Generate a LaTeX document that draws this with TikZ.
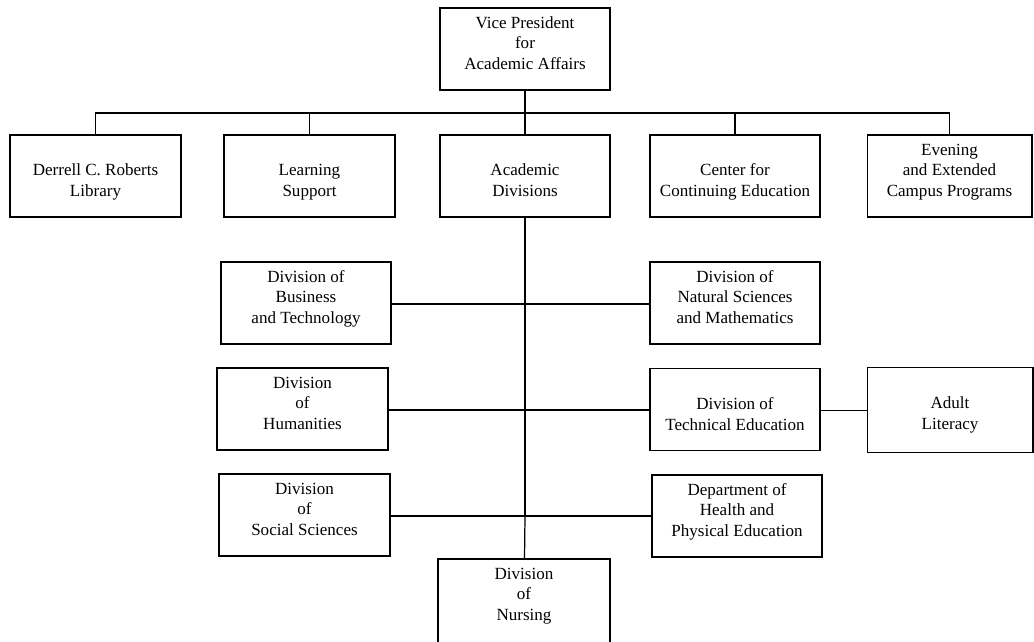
\documentclass[tikz,border=0pt]{standalone}
\usepackage{fontspec}
\setmainfont{Liberation Serif}

\begin{document}
\begin{tikzpicture}[x=0.02cm,y=-0.02cm,
  unit/.style={draw,line width=0.6pt,minimum width=3.4cm,minimum height=1.64cm,inner sep=0pt},
  txt/.style={anchor=north,yshift=-3.3pt,inner sep=0pt,align=center,
    font=\fontsize{9.7}{11.8}\selectfont},
  link/.style={line width=0.7pt},
  trunk/.style={line width=0.95pt}]
\useasboundingbox (0,0) rectangle (1034,642);

\node[unit,label={[txt]north:{\strut Vice President\\for\\Academic Affairs}}] (vp) at (525,49) {};

\node[unit,minimum width=3.42cm,label={[txt]north:{\strut\\Derrell C. Roberts\\Library}}] (lib) at (95.5,176) {};
\node[unit,minimum width=3.42cm,label={[txt]north:{\strut\\Learning\\Support}}] (learn) at (309.5,176) {};
\node[unit,label={[txt]north:{\strut\\Academic\\Divisions}}] (acad) at (525,176) {};
\node[unit,label={[txt]north:{\strut\\Center for\\Continuing Education}}] (cont) at (735,176) {};
\node[unit,minimum width=3.3cm,label={[txt]north:{\strut Evening\\and Extended\\Campus Programs}}] (even) at (949.5,176) {};

\node[unit,label={[txt]north:{\strut Division of\\Business\\and Technology}}] (biz) at (306,303) {};
\node[unit,label={[txt]north:{\strut Division of\\Natural Sciences\\and Mathematics}}] (natsci) at (735,303) {};
\node[unit,minimum width=3.42cm,label={[txt]north:{\strut Division\\of\\Humanities}}] (hum) at (302.5,409) {};
\node[unit,label={[txt]north:{\strut\\Division of\\Technical Education}}] (tech) at (735,409.5) {};
\node[unit,minimum width=3.32cm,minimum height=1.7cm,label={[txt]north:{\strut\\Adult\\Literacy}}] (adult) at (950,410) {};
\node[unit,minimum width=3.42cm,label={[txt]north:{\strut Division\\of\\Social Sciences}}] (soc) at (304.5,515) {};
\node[unit,label={[txt]north:{\strut Department of\\Health and\\Physical Education}}] (health) at (737,516) {};
\node[unit,minimum width=3.44cm,minimum height=1.72cm,label={[txt]north:{\strut Division\\of\\Nursing}}] (nurse) at (524,602) {};

\coordinate (fork) at (525,113);
\coordinate (hub) at (525,516);

\draw[trunk] (vp) -- (acad);
\draw[link] (lib.north) |- (fork) -| (even.north);
\draw[link] (learn.north) -- (learn.north |- fork);
\draw[link] (cont.north) -- (cont.north |- fork);

\draw[trunk] (acad) -- (hub);
\draw[link] (biz.east |- 0,304) -- (natsci.west |- 0,304);
\draw[link] (hum.east |- 0,410) -- (tech.west |- 0,410);
\draw[link] (tech.east |- 0,410.5) -- (adult.west |- 0,410.5);
\draw[link] (soc.east |- hub) -- (health.west |- hub);
\draw[link] (hub) -- (nurse);

\end{tikzpicture}
\end{document}
